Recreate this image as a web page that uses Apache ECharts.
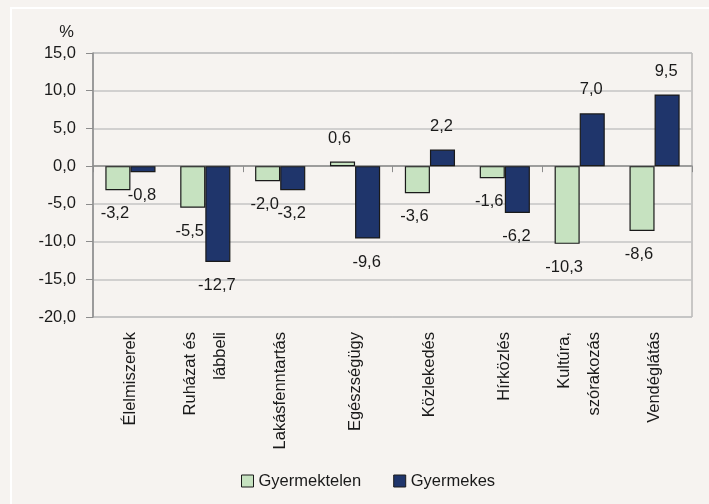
<!DOCTYPE html>
<html>
<head>
<meta charset="utf-8">
<script src="https://cdn.jsdelivr.net/npm/echarts@6/dist/echarts.min.js"></script>
<style>
  html, body { margin: 0; padding: 0; background: #f6f3f0; }
  #chart { width: 709px; height: 504px; }
</style>
</head>
<body>
<div id="chart"></div>
<script>
// Kategóriák és adatok (%)
const categories = [
  'Élelmiszerek', 'Ruházat és\nlábbeli', 'Lakásfenntartás', 'Egészségügy',
  'Közlekedés', 'Hírközlés', 'Kultúra,\nszórakozás', 'Vendéglátás'
];
const gyermektelen = [-3.2, -5.5, -2.0, 0.6, -3.6, -1.6, -10.3, -8.6];
const gyermekes = [-0.8, -12.7, -3.2, -9.6, 2.2, -6.2, 7.0, 9.5];
const seriesNames = ['Gyermektelen', 'Gyermekes'];

const FONT = "'Liberation Sans', Arial, sans-serif";
const FS = 16.5;
const fmt = v => v.toFixed(1).replace('.', ',');

// pozitív értéknél fent, negatívnál lent a felirat
const withLabels = (values, dx) => values.map(v => ({
  value: v,
  label: { position: v >= 0 ? 'top' : 'bottom', offset: [dx, 0] }
}));

const chart = echarts.init(document.getElementById('chart'));

const labelStyle = {
  show: true,
  distance: 15,
  fontFamily: FONT,
  fontSize: FS,
  color: '#1a1a1a',
  formatter: p => fmt(p.value)
};

const option = {
  animation: false,
  backgroundColor: '#f6f3f0',
  textStyle: { fontFamily: FONT },
  graphic: [{
    type: 'rect',
    shape: { x: 11, y: 8, width: 720, height: 520 },
    style: { fill: 'transparent', stroke: '#ffffff', lineWidth: 2 },
    silent: true
  }],
  grid: {
    left: 93, right: 17, top: 53, bottom: 187,
    show: true,
    borderColor: '#9a9a9a',
    borderWidth: 1
  },
  legend: {
    left: 236,
    top: 467,
    icon: 'rect',
    itemWidth: 12,
    itemHeight: 12,
    itemGap: 32,
    itemStyle: { borderColor: '#1a1a1a', borderWidth: 1 },
    textStyle: { fontFamily: FONT, fontSize: FS, color: '#1a1a1a', lineHeight: 18 },
    data: seriesNames
  },
  xAxis: [
    {
      type: 'category',
      data: categories,
      position: 'bottom',
      axisLine: { onZero: true, lineStyle: { color: '#8c8c8c', width: 1.5 } },
      axisTick: { show: true, length: 6, lineStyle: { color: '#8c8c8c' } },
      axisLabel: { show: false },
      splitLine: { show: false }
    },
    {
      type: 'category',
      data: categories,
      position: 'bottom',
      axisLine: { show: false, onZero: false },
      axisTick: { show: false },
      axisLabel: {
        rotate: 90,
        margin: 15,
        fontFamily: FONT,
        fontSize: FS,
        lineHeight: 30,
        color: '#1a1a1a',
        interval: 0
      }
    }
  ],
  yAxis: {
    type: 'value',
    min: -20,
    max: 15,
    interval: 5,
    name: '%',
    nameLocation: 'end',
    nameGap: 12,
    nameTextStyle: { fontFamily: FONT, fontSize: FS, color: '#1a1a1a', align: 'right', padding: [0, 19, 0, 0] },
    axisLine: { show: true, lineStyle: { color: '#8c8c8c', width: 1.5 } },
    axisTick: { show: true, length: 7, lineStyle: { color: '#8c8c8c' } },
    axisLabel: { margin: 17, fontFamily: FONT, fontSize: FS, color: '#1a1a1a', formatter: v => fmt(v) },
    splitLine: { lineStyle: { color: '#c4c4c4', width: 1.5 } }
  },
  series: [
    {
      name: seriesNames[0],
      type: 'bar',
      xAxisIndex: 0,
      data: withLabels(gyermektelen, -3),
      barGap: '0%',
      barCategoryGap: '33%',
      itemStyle: { color: '#c6e2c0', borderColor: '#1a1a1a', borderWidth: 1.2 },
      label: labelStyle
    },
    {
      name: seriesNames[1],
      type: 'bar',
      xAxisIndex: 0,
      data: withLabels(gyermekes, -1),
      barGap: '0%',
      barCategoryGap: '33%',
      itemStyle: { color: '#1f356b', borderColor: '#1a1a1a', borderWidth: 1.2 },
      label: labelStyle
    }
  ]
};

chart.setOption(option);
</script>
</body>
</html>
